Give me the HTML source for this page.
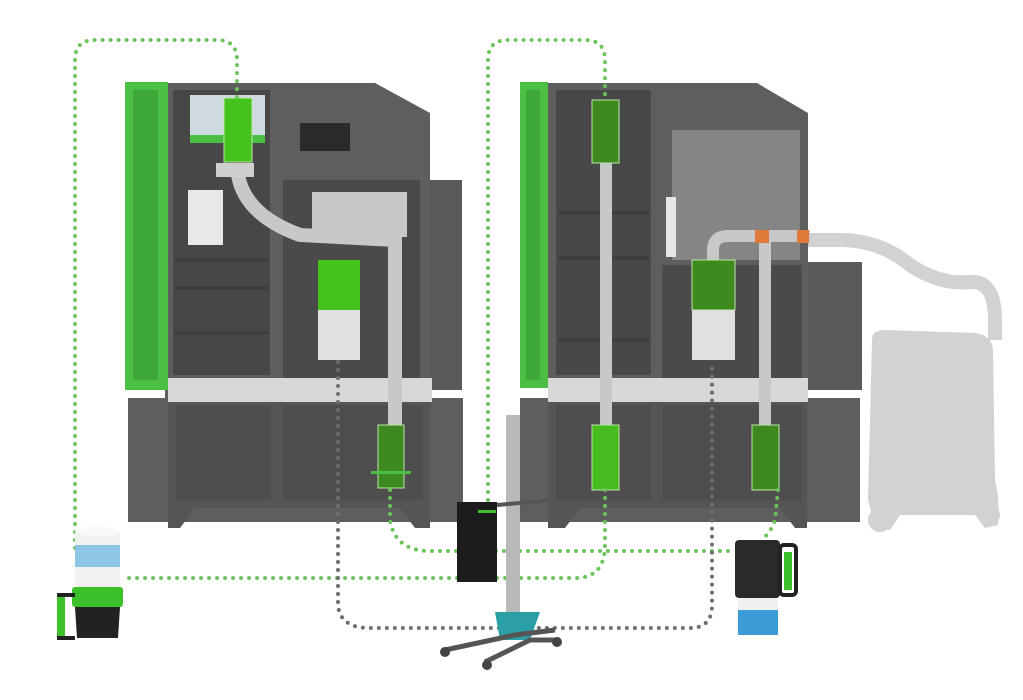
<!DOCTYPE html>
<html><head><meta charset="utf-8"><style>html,body{margin:0;padding:0;background:#fff}svg{display:block}</style></head>
<body>
<svg width="1023" height="700" viewBox="0 0 1023 700" xmlns="http://www.w3.org/2000/svg">
<rect width="1023" height="700" fill="#fff"/>

<!-- vacuum silhouette -->
<g fill="#d2d2d2">
<path d="M872 340 Q872 330 885 330 L975 333 Q992 335 993 350 L995 480 Q1000 500 998 525 L985 528 L975 515 L900 515 L890 530 L875 528 L868 500 Z"/>
<circle cx="880" cy="520" r="12"/><circle cx="990" cy="515" r="10"/>
</g>
<path d="M808 240 L840 240 Q880 240 910 265 Q940 285 970 282 Q995 280 995 320 L995 340" fill="none" stroke="#d2d2d2" stroke-width="14"/>

<!-- LEFT MACHINE -->
<g>
<rect x="128" y="398" width="335" height="124" fill="#5e5e5e"/>
<path d="M168 398 L430 398 L430 528 L415 528 L400 508 L195 508 L180 528 L168 528 Z" fill="#555"/>
<rect x="176" y="405" width="95" height="95" fill="#4e4e4e"/><rect x="283" y="405" width="140" height="95" fill="#4e4e4e"/>
<rect x="425" y="180" width="37" height="210" fill="#5a5a5a"/>
<path d="M165 83 L375 83 L430 113 L430 400 L165 400 Z" fill="#5e5e5e"/>
<rect x="173" y="90" width="97" height="285" fill="#474747"/>
<path d="M175 260 L268 260 M175 288 L268 288 M175 333 L268 333" stroke="#3c3c3c" stroke-width="3"/>
<rect x="283" y="180" width="137" height="200" fill="#4a4a4a"/>
<rect x="312" y="192" width="95" height="45" fill="#c8c8c8"/>
<rect x="300" y="123" width="50" height="28" fill="#2a2a2a"/>
<rect x="190" y="95" width="75" height="40" fill="#cfd9e0"/>
<rect x="190" y="135" width="75" height="8" fill="#4bbf44"/>
<rect x="188" y="190" width="35" height="55" fill="#e8e8e8"/>
<rect x="125" y="82" width="43" height="308" fill="#4bbf44"/>
<rect x="133" y="90" width="25" height="290" fill="#3fa83a"/>
<rect x="168" y="378" width="264" height="24" fill="#d8d8d8"/>
<path d="M238 175 Q245 215 300 235 L395 240 L395 425" fill="none" stroke="#c8c8c8" stroke-width="14"/>
<rect x="216" y="163" width="38" height="14" fill="#cfcfcf"/>
<rect x="224" y="98" width="28" height="64" fill="#45c21c" stroke="#bde6a8"/>
<rect x="318" y="260" width="42" height="50" fill="#45c21c"/>
<rect x="318" y="310" width="42" height="50" fill="#e0e0e0"/>
<rect x="378" y="425" width="26" height="63" fill="#3d8a20" stroke="#bde6a8"/>
<rect x="371" y="471" width="40" height="3" fill="#4bbf44"/>
</g>

<!-- RIGHT MACHINE -->
<g>
<rect x="520" y="398" width="340" height="124" fill="#5e5e5e"/>
<path d="M548 398 L807 398 L807 528 L795 528 L780 508 L580 508 L565 528 L548 528 Z" fill="#555"/>
<rect x="556" y="405" width="95" height="95" fill="#4e4e4e"/><rect x="662" y="405" width="140" height="95" fill="#4e4e4e"/>
<rect x="806" y="262" width="56" height="128" fill="#5a5a5a"/>
<path d="M548 83 L757 83 L808 113 L808 400 L548 400 Z" fill="#5e5e5e"/>
<rect x="556" y="90" width="95" height="285" fill="#484848"/>
<path d="M558 213 L649 213 M558 258 L649 258 M558 340 L649 340" stroke="#3c3c3c" stroke-width="3"/>
<rect x="662" y="265" width="140" height="115" fill="#4a4a4a"/>
<rect x="672" y="130" width="128" height="130" fill="#858585"/>
<rect x="666" y="197" width="10" height="60" fill="#e6e6e6"/>
<rect x="520" y="82" width="28" height="306" fill="#4bbf44"/>
<rect x="526" y="90" width="14" height="290" fill="#3fa83a"/>
<rect x="548" y="378" width="260" height="24" fill="#d8d8d8"/>
<path d="M606 163 L606 425" stroke="#c8c8c8" stroke-width="12"/>
<path d="M713 260 L713 250 Q713 236 728 236 L810 236 M765 236 L765 425" fill="none" stroke="#c8c8c8" stroke-width="12"/>
<rect x="755" y="230" width="14" height="13" fill="#e07a3a"/><rect x="797" y="230" width="12" height="13" fill="#e07a3a"/>
<rect x="592" y="100" width="27" height="63" fill="#3e8a1e" stroke="#bde6a8"/>
<rect x="592" y="425" width="27" height="65" fill="#46bb1e" stroke="#bde6a8"/>
<rect x="692" y="260" width="43" height="50" fill="#3e8a1e" stroke="#bde6a8"/>
<rect x="692" y="310" width="43" height="50" fill="#e0e0e0"/>
<rect x="752" y="425" width="27" height="65" fill="#3e8a1e" stroke="#bde6a8"/>
</g>

<!-- dotted lines -->
<g fill="none" stroke-linecap="round" stroke-dasharray="0 8" stroke-width="4">
<path d="M75 548 L75 60 Q75 40 95 40 L217 40 Q237 40 237 60 L237 98" stroke="#6cc45a"/>
<path d="M488 500 L488 60 Q488 40 508 40 L585 40 Q605 40 605 60 L605 98" stroke="#6cc45a"/>
<path d="M390 490 L390 520 Q395 551 430 551 L735 551" stroke="#6cc45a"/>
<path d="M605 490 L605 545 Q605 578 575 578 L125 578" stroke="#6cc45a"/>
<path d="M778 490 L775 520 Q770 535 760 540" stroke="#6cc45a"/>
<path d="M338 362 L338 605 Q340 628 370 628 L690 628 Q712 628 712 605 L712 362" stroke="#6e6e6e"/>
</g>

<!-- left container -->
<rect x="75" y="530" width="45" height="57" rx="4" fill="#f2f2f2"/>
<rect x="75" y="545" width="45" height="22" fill="#8ec6e6"/>
<ellipse cx="97" cy="531" rx="22" ry="5" fill="#fafafa"/>
<rect x="72" y="587" width="51" height="20" rx="3" fill="#3cc12a"/>
<path d="M75 607 L120 607 L118 638 L77 638 Z" fill="#222"/>
<rect x="57" y="595" width="8" height="45" rx="3" fill="#3cc12a"/>
<path d="M57 595 L75 595 M57 638 L75 638" stroke="#222" stroke-width="4"/>

<!-- stand -->
<rect x="506" y="415" width="14" height="210" fill="#b9b9b9"/>
<path d="M497 505 L555 500" stroke="#555" stroke-width="4"/>
<rect x="457" y="502" width="40" height="80" fill="#1c1c1c"/>
<rect x="478" y="510" width="18" height="3" fill="#3cc12a"/>
<path d="M495 612 L540 612 L530 640 L500 640 Z" fill="#2aa0a6"/>
<path d="M445 650 L515 635 L555 630 M485 662 L530 640 L560 640" stroke="#555" stroke-width="5" fill="none"/>
<circle cx="445" cy="652" r="5" fill="#444"/><circle cx="487" cy="665" r="5" fill="#444"/><circle cx="557" cy="642" r="5" fill="#444"/>

<!-- right container -->
<rect x="735" y="540" width="45" height="58" rx="4" fill="#2a2a2a"/>
<rect x="738" y="598" width="40" height="12" fill="#f0f0f0"/>
<rect x="738" y="610" width="40" height="25" fill="#3c9ad4"/>
<rect x="780" y="545" width="16" height="50" rx="4" fill="none" stroke="#222" stroke-width="4"/>
<rect x="784" y="552" width="8" height="38" fill="#3cc12a"/>
</svg>
</body></html>
